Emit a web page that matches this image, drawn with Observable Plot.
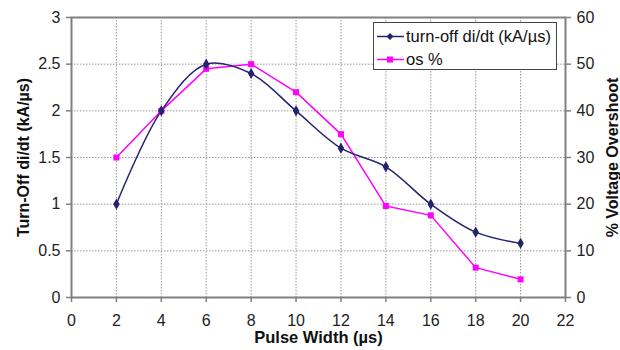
<!DOCTYPE html>
<html>
<head>
<meta charset="utf-8">
<script src="https://cdn.jsdelivr.net/npm/d3@7"></script>
<script src="https://cdn.jsdelivr.net/npm/@observablehq/plot@0.6"></script>
<style>
  html, body { margin: 0; padding: 0; background: #fff; }
  #wrap { position: relative; width: 620px; height: 350px; font-family: "Liberation Sans", Arial, sans-serif; }
  #legend { position: absolute; left: 373px; top: 22px; width: 184px; height: 48px; border: 1px solid #444; background: #fff; box-sizing: border-box; font-size: 16.5px; color: #111; }
  .row { position: absolute; left: 3px; height: 22px; display: flex; align-items: center; }
  .row svg { margin-right: 2px; }
</style>
</head>
<body>
<div id="wrap"></div>
<script>
const pulseWidth = [2, 4, 6, 8, 10, 12, 14, 16, 18, 20];
const diDt = [1.0, 2.0, 2.5, 2.4, 2.0, 1.6, 1.4, 1.0, 0.7, 0.58];
const osPct = [30, 40, 49, 50, 44, 35, 19.6, 17.6, 6.4, 3.9];
const xTicks = [0, 2, 4, 6, 8, 10, 12, 14, 16, 18, 20, 22];
const yLeftTicks = [0, 0.5, 1, 1.5, 2, 2.5, 3];
const yRightTicks = [0, 10, 20, 30, 40, 50, 60];
const seriesNames = ["turn-off di/dt (kA/\u00b5s)", "os %"];
const colors = ["#23236e", "#ff00ff"];
const xLabel = "Pulse Width (\u00b5s)";
const yLeftLabel = "Turn-Off di/dt (kA/\u00b5s)";
const yRightLabel = "% Voltage Overshoot";
const ratio = 60 / 3; // right axis units per left axis unit

const diData = pulseWidth.map((x, i) => ({x, y: diDt[i]}));
const osData = pulseWidth.map((x, i) => ({x, y: osPct[i] / ratio}));

const gray = "#808080";
const chart = Plot.plot({
  width: 620,
  height: 350,
  marginLeft: 71,
  marginRight: 55,
  marginTop: 17,
  marginBottom: 53,
  style: {fontFamily: "'Liberation Sans', Arial, sans-serif", fontSize: "16px", color: "#222", background: "#fff"},
  x: {domain: [0, 22]},
  y: {domain: [0, 3]},
  marks: [
    Plot.gridX(xTicks.filter(d => d > 0 && d < 22), {stroke: "#999", strokeOpacity: 1, strokeDasharray: "1.5,1.5"}),
    Plot.gridY(yLeftTicks.filter(d => d > 0 && d < 3), {stroke: "#999", strokeOpacity: 1, strokeDasharray: "1.5,1.5"}),
    Plot.frame({stroke: gray, strokeWidth: 2}),
    Plot.axisX({ticks: xTicks, tickSize: 5, tickPadding: 12, stroke: gray, strokeWidth: 1.5, label: null, fontSize: 16}),
    Plot.axisY({ticks: yLeftTicks, tickFormat: d => String(d), tickSize: 5, tickPadding: 6, stroke: gray, strokeWidth: 1.5, label: null, fontSize: 16}),
    Plot.axisY({anchor: "right", ticks: yRightTicks.map(d => d / ratio), tickFormat: d => String(Math.round(d * ratio)), tickSize: 5, tickPadding: 6, stroke: gray, strokeWidth: 1.5, label: null, fontSize: 16}),
    Plot.line(osData, {x: "x", y: "y", stroke: colors[1], strokeWidth: 1.5}),
    Plot.line(diData, {x: "x", y: "y", stroke: colors[0], strokeWidth: 1.5, curve: "catmull-rom"}),
    Plot.dot(osData, {x: "x", y: "y", symbol: "square", fill: colors[1], r: 3.4}),
    Plot.dot(diData, {x: "x", y: "y", symbol: "diamond", fill: colors[0], r: 3.4}),
    Plot.text([xLabel], {frameAnchor: "bottom", dy: 34, textAnchor: "middle", lineAnchor: "top", fontWeight: "bold", fontSize: 16.5, fill: "#111"}),
    Plot.text([yLeftLabel], {frameAnchor: "left", dx: -48, textAnchor: "middle", lineAnchor: "middle", rotate: -90, fontWeight: "bold", fontSize: 16, fill: "#111"}),
    Plot.text([yRightLabel], {frameAnchor: "right", dx: 47, textAnchor: "middle", lineAnchor: "middle", rotate: -90, fontWeight: "bold", fontSize: 16, fill: "#111"})
  ]
});
const wrap = document.getElementById("wrap");
wrap.appendChild(chart);

const legend = document.createElement("div");
legend.id = "legend";
seriesNames.forEach((name, i) => {
  const row = document.createElement("div");
  row.className = "row";
  row.style.top = (i === 0 ? 2 : 25) + "px";
  const sym = i === 0
    ? `<polygon points="13,2 16.5,5.5 13,9 9.5,5.5" fill="${colors[0]}"/>`
    : `<rect x="10" y="2.5" width="6" height="6" fill="${colors[1]}"/>`;
  row.innerHTML = `<svg width="27" height="11"><line x1="0" y1="5.5" x2="27" y2="5.5" stroke="${colors[i]}" stroke-width="1.5"/>${sym}</svg><span>${name}</span>`;
  legend.appendChild(row);
});
wrap.appendChild(legend);
</script>
</body>
</html>
